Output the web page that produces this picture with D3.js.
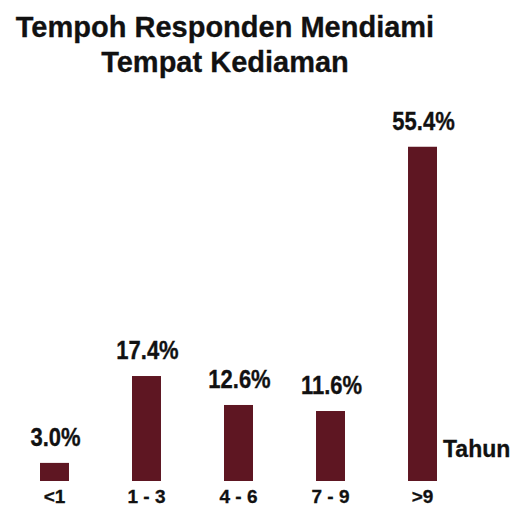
<!DOCTYPE html>
<html>
<head>
<meta charset="utf-8">
<script src="https://cdn.jsdelivr.net/npm/d3@7"></script>
<style>
  html, body { margin: 0; padding: 0; background: #fff; }
  svg { display: block; }
  text { font-family: "Liberation Sans", Arial, sans-serif; font-weight: bold; fill: #111; stroke: #111; stroke-width: 0.3px; }
</style>
</head>
<body>
<script>
// Duration of residence categories (years) and share of respondents (%)
const categories = ["<1", "1 - 3", "4 - 6", "7 - 9", ">9"];
const percentages = [3.0, 17.4, 12.6, 11.6, 55.4];
const titleLines = ["Tempoh Responden Mendiami", "Tempat Kediaman"];
const unitLabel = "Tahun";

const W = 527, H = 506;
const svg = d3.select("body").append("svg").attr("width", W).attr("height", H);

const x = d3.scaleBand()
  .domain(categories)
  .range([40, 437])
  .paddingInner(0.685)
  .paddingOuter(0);

const y = d3.scaleLinear().domain([0, 60]).range([481, 119]);

// Title
svg.append("g").selectAll("text")
  .data(titleLines)
  .join("text")
  .attr("x", 225)
  .attr("y", (d, i) => 37 + i * 35)
  .attr("text-anchor", "middle")
  .attr("font-size", 29)
  .text(d => d);

const data = categories.map((c, i) => ({ cat: c, value: percentages[i] }));

// Bars
svg.append("g").selectAll("rect")
  .data(data)
  .join("rect")
  .attr("x", d => x(d.cat))
  .attr("y", d => y(d.value))
  .attr("width", x.bandwidth())
  .attr("height", d => y(0) - y(d.value))
  .attr("fill", "#5e1622");

// Value labels (slightly condensed, taller glyphs)
svg.append("g").selectAll("text")
  .data(data)
  .join("text")
  .attr("transform", d => `translate(${x(d.cat) + x.bandwidth() / 2 + 1},${y(d.value) - 17}) scale(1,1.15)`)
  .attr("text-anchor", "middle")
  .attr("font-size", 22)
  .text(d => d.value.toFixed(1) + "%");

// Category axis labels
const axis = d3.axisBottom(x).tickSize(0).tickPadding(0);
const gAxis = svg.append("g").attr("transform", `translate(0,${y(0)})`).call(axis);
gAxis.select(".domain").remove();
gAxis.selectAll("text")
  .attr("font-family", null)
  .attr("font-size", 19)
  .attr("fill", "#111")
  .attr("dy", null)
  .attr("y", 22);

// Unit label
svg.append("text")
  .attr("x", 443)
  .attr("y", 457)
  .attr("font-size", 23)
  .text(unitLabel);
</script>
</body>
</html>
